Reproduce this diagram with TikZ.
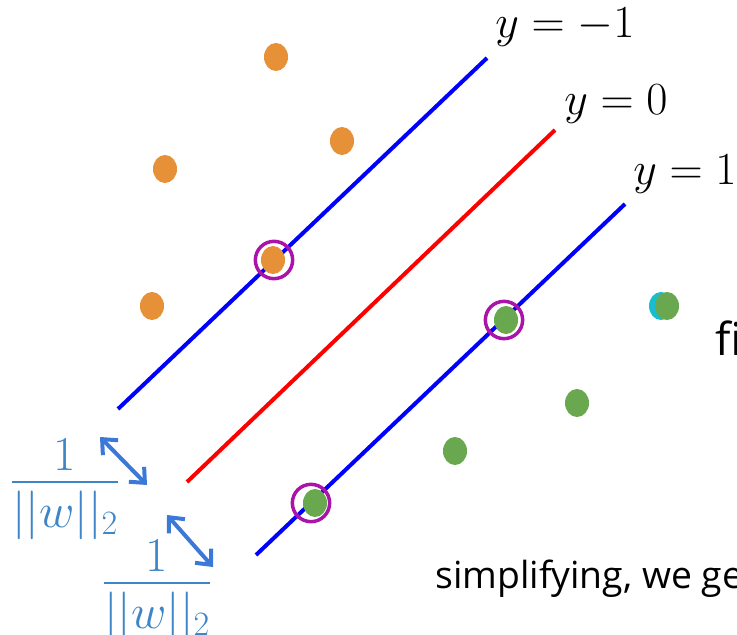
\RequirePackage{fix-cm}
\documentclass[tikz,border=0pt]{standalone}
\usepackage{amsmath,amssymb}
\usepackage{fontspec}
\newfontfamily\slidefont{Open Sans}
\usetikzlibrary{shapes.geometric,arrows.meta,positioning,calc}
\definecolor{dotorange}{RGB}{230,145,56}
\definecolor{dotgreen}{RGB}{106,168,79}
\definecolor{dotteal}{RGB}{23,190,207}
\definecolor{svpurple}{RGB}{170,20,170}
\definecolor{marginblue}{RGB}{61,133,198}
\definecolor{arrowblue}{RGB}{60,120,216}
\newcommand{\invnorm}{\displaystyle\frac{\raisebox{-0.2em}{$1$}}{||w||_2}}

\begin{document}
\begin{tikzpicture}[x=0.75pt, y=-0.75pt]
        \tikzset{
            pt/.style={draw=none, ellipse, minimum width=18pt, minimum height=21pt, inner sep=0pt},
            negpt/.style={pt, fill=dotorange},
            pospt/.style={pt, fill=dotgreen},
            sv/.style={draw=svpurple, circle, line width=2.6pt, minimum size=28pt, inner sep=0pt},
            bound/.style={draw=blue, line width=3pt},
            hyper/.style={draw=red, line width=3pt},
            eqlabel/.style={anchor=base west, inner sep=0pt, font=\fontsize{34.5}{41}\selectfont},
            marginlabel/.style={anchor=base, inner sep=0pt, text=marginblue, font=\fontsize{36.5}{44}\selectfont},
            gap/.style={draw=arrowblue, line width=3pt, {Straight Barb[length=9pt,width=16pt]}-{Straight Barb[length=9pt,width=16pt]}},
            slide/.style={anchor=base west, inner sep=0pt, font=\slidefont\fontsize{28}{34}\selectfont}
        }
        \clip (0,0) rectangle (737,634);

        % Lines
        \coordinate (m1a) at (118,409);
        \coordinate (m1b) at (487,58);
        \coordinate (h0a) at (187,482);
        \coordinate (h0b) at (555,130);
        \coordinate (p1a) at (256,555);
        \coordinate (p1b) at (625,204);
        \draw [bound] (m1a) -- (m1b);
        \draw [hyper] (h0a) -- (h0b);
        \draw [bound] (p1a) -- (p1b);

        % Line labels
        \node [eqlabel] (lm1) at (495,38) {$y=-1$};
        \node [eqlabel] (l0) at (564,115) {$y=0$};
        \node [eqlabel] (lp1) at (633,185) {$y=1$};

        % Negative class
        \node [negpt] (o1) at (276,57) {};
        \node [negpt] (o2) at (342,141) {};
        \node [negpt] (o3) at (165,169) {};
        \node [negpt] (o4) at (152,306) {};
        \node [negpt] (o5) at (273,260) {};

        % Positive class
        \node [pt, fill=dotteal] (t1) at (661,306) {};
        \node [pospt] (g1) at (667,306) {};
        \node [pospt] (g2) at (577,403) {};
        \node [pospt] (g3) at (455,451) {};
        \node [pospt] (g4) at (506,320) {};
        \node [pospt] (g5) at (315,503) {};

        % Support vectors
        \node [sv] (s1) at (274,260) {};
        \node [sv] (s2) at (504,320) {};
        \node [sv] (s3) at (311,503) {};

        % Margins
        \coordinate (a1s) at (100,437);
        \coordinate (a1e) at (147,485);
        \coordinate (a2s) at (167,515);
        \coordinate (a2e) at (213,567);
        \draw [gap] (a1s) -- (a1e);
        \draw [gap] (a2s) -- (a2e);
        \node [marginlabel] (w1) at (65,494) {$\invnorm$};
        \node [marginlabel] (w2) at (157,595) {$\invnorm$};

        % Slide text
        \node [slide, font=\slidefont\fontsize{34}{40}\selectfont] (fi) at (715,355) {fi};
        \node [slide] (simp) at (435,588) {simplifying, we ge};

    \end{tikzpicture}
\end{document}
